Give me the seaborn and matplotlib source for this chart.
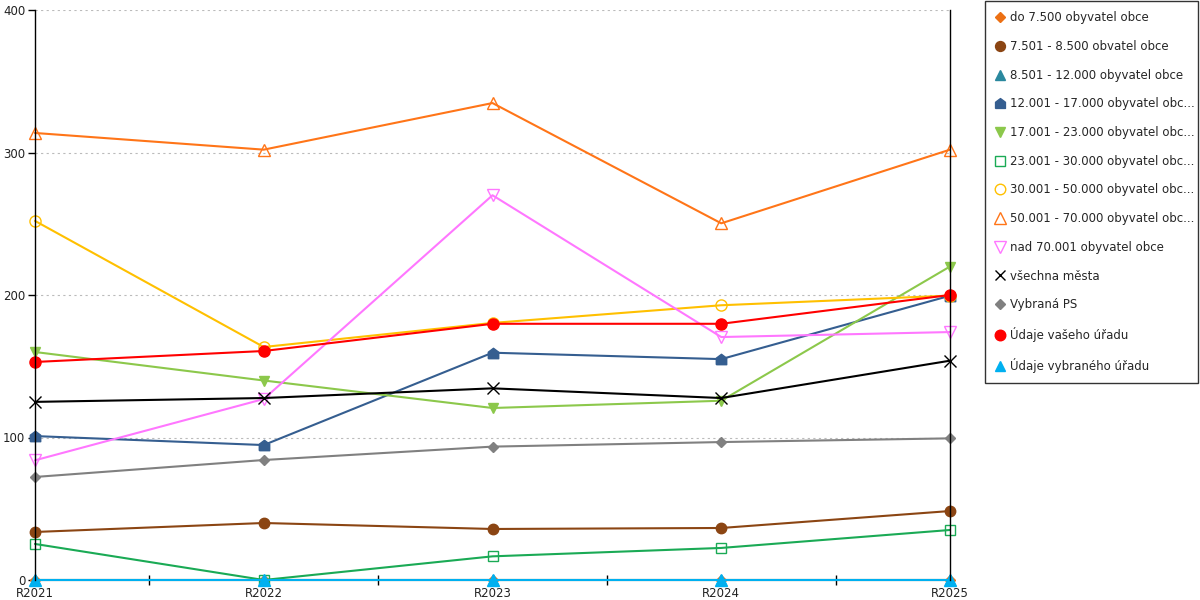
import matplotlib
matplotlib.use("Agg")
import matplotlib.pyplot as plt
import seaborn as sns
import pandas as pd
from matplotlib.lines import Line2D

sns.set_theme(style="white")
plt.rcParams['font.family'] = ['DejaVu Sans']

years = ["R2021", "R2022", "R2023", "R2024", "R2025"]

labels = [
    "do 7.500 obyvatel obce",
    "7.501 - 8.500 obvatel obce",
    "8.501 - 12.000 obyvatel obce",
    "12.001 - 17.000 obyvatel obc...",
    "17.001 - 23.000 obyvatel obc...",
    "23.001 - 30.000 obyvatel obc...",
    "30.001 - 50.000 obyvatel obc...",
    "50.001 - 70.000 obyvatel obc...",
    "nad 70.001 obyvatel obce",
    "všechna města",
    "Vybraná PS",
    "Údaje vašeho úřadu",
    "Údaje vybraného úřadu",
]

do_7500 = [0, 0, 0, 0, 0]
s_7501_8500 = [33.7, 40, 35.8, 36.5, 48.4]
s_8501_12000 = [0, 0, 0, 0, 0]
s_12001_17000 = [101, 94.7, 159.5, 155, 199.5]
s_17001_23000 = [160, 140, 120.7, 125.8, 220]
s_23001_30000 = [25.3, 0, 16.6, 22.5, 35.1]
s_30001_50000 = [252, 163.5, 180.4, 192.8, 199.6]
s_50001_70000 = [313.7, 302, 334.7, 250.3, 302]
nad_70001 = [84, 127, 270, 170.5, 174]
vsechna_mesta = [125, 127.7, 134.5, 127.7, 153.9]
vybrana_ps = [72.3, 84.2, 93.6, 96.8, 99.4]
vas_urad = [153, 160.7, 179.8, 179.8, 200]
vybrany_urad = [0, 0, 0, 0, 0]

series = [do_7500, s_7501_8500, s_8501_12000, s_12001_17000, s_17001_23000,
          s_23001_30000, s_30001_50000, s_50001_70000, nad_70001,
          vsechna_mesta, vybrana_ps, vas_urad, vybrany_urad]

house = [(-1, -1), (1, -1), (1, 0.25), (0, 1), (-1, 0.25), (-1, -1)]

styles = [
    dict(color="#EC7014", marker="D", ms=5.5, filled=True),
    dict(color="#8B4513", marker="o", ms=7.5, filled=True),
    dict(color="#2A889E", marker="^", ms=7.5, filled=True),
    dict(color="#355E90", marker=house, ms=7.5, filled=True),
    dict(color="#8CC84B", marker="v", ms=7.5, filled=True),
    dict(color="#1AAA55", marker="s", ms=7.5, filled=False),
    dict(color="#FFC000", marker="o", ms=8, filled=False),
    dict(color="#FF7518", marker="^", ms=8.5, filled=False),
    dict(color="#FF77FF", marker="v", ms=8.5, filled=False),
    dict(color="#000000", marker="x", ms=8, filled=False),
    dict(color="#808080", marker="D", ms=5.5, filled=True),
    dict(color="#FF0000", marker="o", ms=8, filled=True),
    dict(color="#00B0F0", marker="^", ms=8, filled=True),
]

fig = plt.figure(figsize=(12, 6), dpi=100)
ax = fig.add_axes([35/1200, 20/600, 915/1200, 570/600])

handles = []
for lab, vals, st in zip(labels, series, styles):
    df = pd.DataFrame({"x": list(range(len(years))), "y": vals})
    mfc = st["color"] if st["filled"] else "none"
    sns.lineplot(data=df, x="x", y="y", ax=ax, color=st["color"], lw=1.5,
                 marker=st["marker"], markersize=st["ms"], markerfacecolor=mfc,
                 markeredgecolor=st["color"], markeredgewidth=1.0, clip_on=False)
    handles.append(Line2D([], [], linestyle="none", marker=st["marker"],
                          markersize=st["ms"] * 0.95, markerfacecolor=mfc,
                          markeredgecolor=st["color"], markeredgewidth=1.0))

ax.set_xlim(0, 4)
ax.set_ylim(0, 400)
ax.set_xticks(range(len(years)))
ax.set_xticklabels(years)
ax.set_xticks([0.5, 1.5, 2.5, 3.5], minor=True)
ax.set_yticks([0, 100, 200, 300, 400])
ax.set_xlabel("")
ax.set_ylabel("")
ax.tick_params(axis="x", which="major", length=0, pad=5, labelsize=8.5, colors="#222222")
ax.tick_params(axis="x", which="minor", length=7, width=1, direction="inout", color="black", bottom=True)
ax.tick_params(axis="y", which="major", length=5, width=1, direction="out", left=True,
               pad=2, labelsize=8.5, colors="#222222")
ax.tick_params(axis="y", which="major", color="black")
ax.grid(axis="y", color="#BBBBBB", linestyle=(0, (2, 3)), linewidth=0.8)
ax.grid(axis="x", visible=False)
for side in ["left", "right", "bottom"]:
    ax.spines[side].set_visible(True)
    ax.spines[side].set_color("black")
    ax.spines[side].set_linewidth(1.0)
ax.spines["top"].set_visible(False)
ax.spines["bottom"].set_visible(False)
ax.set_facecolor("white")

leg = fig.legend(handles, labels, loc="upper left",
                 bbox_to_anchor=(985/1200, 0.998, 213/1200, 0.0), mode="expand",
                 frameon=True, fontsize=8.5, labelspacing=1.33, handlelength=0.8,
                 handletextpad=0.5, borderpad=0.85, borderaxespad=0, fancybox=False)
leg.get_frame().set_edgecolor("black")
leg.get_frame().set_linewidth(1.0)

fig.savefig("out.png", dpi=100, facecolor="white")
